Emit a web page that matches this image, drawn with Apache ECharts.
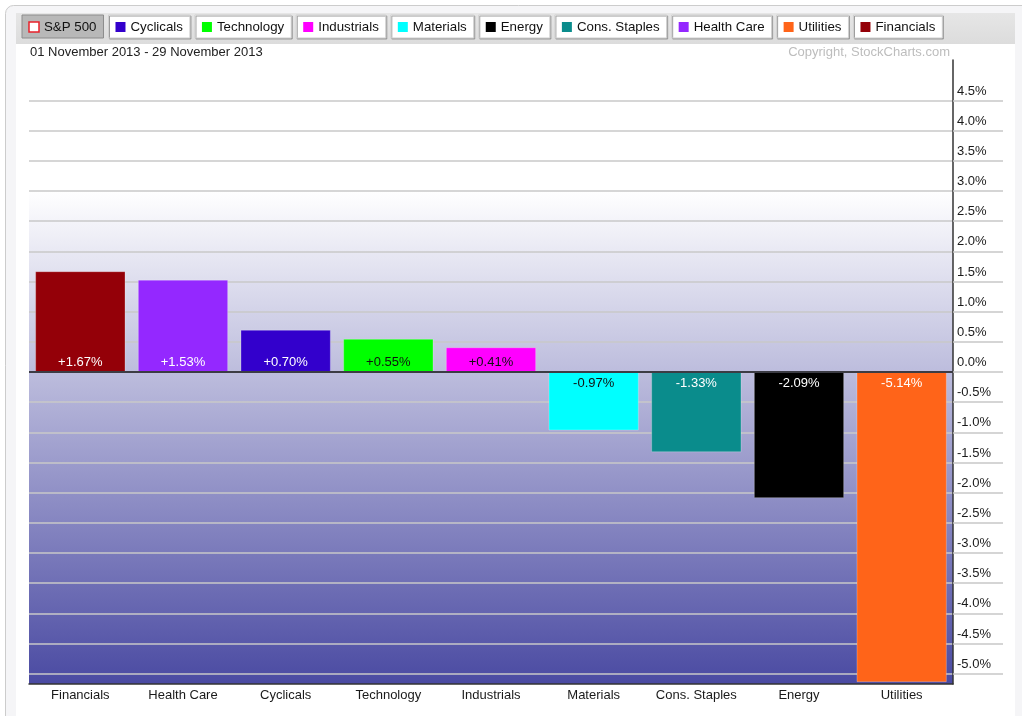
<!DOCTYPE html>
<html>
<head>
<meta charset="utf-8">
<script src="https://cdn.jsdelivr.net/npm/echarts@6/dist/echarts.min.js"></script>
<style>
html,body{margin:0;padding:0;background:#fff;}
#chart{width:1022px;height:716px;}
</style>
</head>
<body>
<div id="chart"></div>
<script>
// ---- data ----
const categories = ['Financials', 'Health Care', 'Cyclicals', 'Technology', 'Industrials', 'Materials', 'Cons. Staples', 'Energy', 'Utilities'];
const values = [1.67, 1.53, 0.70, 0.55, 0.41, -0.97, -1.33, -2.09, -5.14];
const barColors = ['#940008', '#9428ff', '#3300cc', '#00ff00', '#ff00ff', '#00ffff', '#0a8c8c', '#000000', '#ff6419'];
const labelColors = ['#ffffff', '#ffffff', '#ffffff', '#111111', '#111111', '#111111', '#ffffff', '#ffffff', '#ffffff'];
const tickValues = [-5.0, -4.5, -4.0, -3.5, -3.0, -2.5, -2.0, -1.5, -1.0, -0.5, 0.0, 0.5, 1.0, 1.5, 2.0, 2.5, 3.0, 3.5, 4.0, 4.5];
const legendNames = ['S&P 500', 'Cyclicals', 'Technology', 'Industrials', 'Materials', 'Energy', 'Cons. Staples', 'Health Care', 'Utilities', 'Financials'];
const legendColors = [null, '#3300cc', '#00ff00', '#ff00ff', '#00ffff', '#000000', '#0a8c8c', '#9428ff', '#ff6419', '#940008'];
const dateText = '01 November 2013 - 29 November 2013';
const copyrightText = 'Copyright, StockCharts.com';

const FONT = 'Arial, "Liberation Sans", sans-serif';

function fmt(v) {
  return (v > 0 ? '+' : '') + v.toFixed(2) + '%';
}

// measure text
const mctx = document.createElement('canvas').getContext('2d');
const LFONT = '13.3px ' + FONT;
mctx.font = LFONT;

// legend buttons (decoration)
const legendGraphics = [];
let lx = 22;
legendNames.forEach((name, i) => {
  const tw = mctx.measureText(name).width;
  const w = 7 + 10 + 5 + tw + 7;
  const pressed = i === 0;
  legendGraphics.push({
    type: 'rect', z: 10,
    shape: { x: lx, y: 15, width: w, height: 23 },
    style: {
      fill: pressed ? '#b8b8b8' : '#ffffff',
      stroke: pressed ? '#8c8c8c' : '#cfcfcf',
      lineWidth: 1,
      shadowColor: pressed ? 'rgba(0,0,0,0)' : '#9a9a9a',
      shadowOffsetX: 1, shadowOffsetY: 1, shadowBlur: 0
    }
  });
  legendGraphics.push({
    type: 'rect', z: 11,
    shape: { x: lx + 7, y: 22, width: 10, height: 10 },
    style: pressed ? { fill: '#ffffff', stroke: '#e8202a', lineWidth: 1.5 } : { fill: legendColors[i] }
  });
  legendGraphics.push({
    type: 'text', z: 11,
    x: lx + 22, y: 27,
    style: { text: name, font: LFONT, fill: '#111', verticalAlign: 'middle', align: 'left' }
  });
  lx += w + 5;
});

const chart = echarts.init(document.getElementById('chart'), null, { renderer: 'canvas' });

const option = {
  animation: false,
  backgroundColor: '#ffffff',
  graphic: [
    { type: 'rect', z: -10, shape: { x: 5.5, y: 5.5, width: 1040, height: 740, r: 8 }, style: { fill: '#f5f5f7', stroke: '#cccccc', lineWidth: 1 } },
    { type: 'rect', z: -9, shape: { x: 16, y: 14, width: 999, height: 720 }, style: { fill: '#ffffff' } },
    { type: 'rect', z: -8, shape: { x: 16, y: 13, width: 999, height: 31 },
      style: { fill: { type: 'linear', x: 0, y: 0, x2: 0, y2: 1, colorStops: [{ offset: 0, color: '#e6e6e6' }, { offset: 1, color: '#dcdcdc' }] } } },
    { type: 'text', z: 5, x: 30, y: 52, style: { text: dateText, font: '13px ' + FONT, fill: '#222', verticalAlign: 'middle' } },
    { type: 'text', z: 5, x: 950, y: 52, style: { text: copyrightText, font: '13px ' + FONT, fill: '#bdbdbd', verticalAlign: 'middle', align: 'right' } }
  ].concat(legendGraphics),
  grid: {
    left: 29, right: 69, top: 60, bottom: 32,
    show: true,
    borderWidth: 0,
    backgroundColor: {
      type: 'linear', x: 0, y: 0, x2: 0, y2: 1,
      colorStops: [
        { offset: 0, color: '#ffffff' },
        { offset: 0.21, color: '#ffffff' },
        { offset: 1, color: '#4a4aa2' }
      ]
    }
  },
  xAxis: {
    type: 'category',
    data: categories,
    axisLine: { onZero: false, lineStyle: { color: '#333', width: 1.5 } },
    axisTick: { show: false },
    axisLabel: { color: '#1a1a1a', fontSize: 13, fontFamily: FONT, margin: 5, interval: 0 },
    splitLine: { show: false }
  },
  yAxis: {
    type: 'value',
    position: 'right',
    min: -5.17,
    max: 5.17,
    axisLine: { show: true, lineStyle: { color: '#333', width: 1.5 } },
    axisTick: { show: true, customValues: tickValues, length: 50, inside: false, lineStyle: { color: '#c8c8c8', width: 1.5 } },
    axisLabel: {
      customValues: tickValues,
      color: '#1a1a1a', fontSize: 13, fontFamily: FONT, margin: 4,
      verticalAlign: 'bottom', padding: [0, 0, 3, 0],
      formatter: v => v.toFixed(1) + '%'
    },
    splitLine: { show: true, lineStyle: { color: '#c8c8c8', width: 1.5 } }
  },
  series: [{
    type: 'bar',
    barCategoryGap: '12%',
    data: values.map((v, i) => ({
      value: v,
      itemStyle: { color: barColors[i], borderColor: 'rgba(255,255,255,0.25)', borderWidth: 1 },
      label: {
        show: true,
        position: v >= 0 ? 'insideBottom' : 'insideTop',
        distance: v >= 0 ? 3 : 5,
        color: labelColors[i],
        fontSize: 13,
        fontFamily: FONT,
        formatter: () => fmt(v)
      }
    })),
    markLine: {
      silent: true,
      symbol: 'none',
      label: { show: false },
      lineStyle: { color: '#3c3c44', width: 2, type: 'solid' },
      data: [{ yAxis: 0 }]
    }
  }]
};

chart.setOption(option);
</script>
</body>
</html>
